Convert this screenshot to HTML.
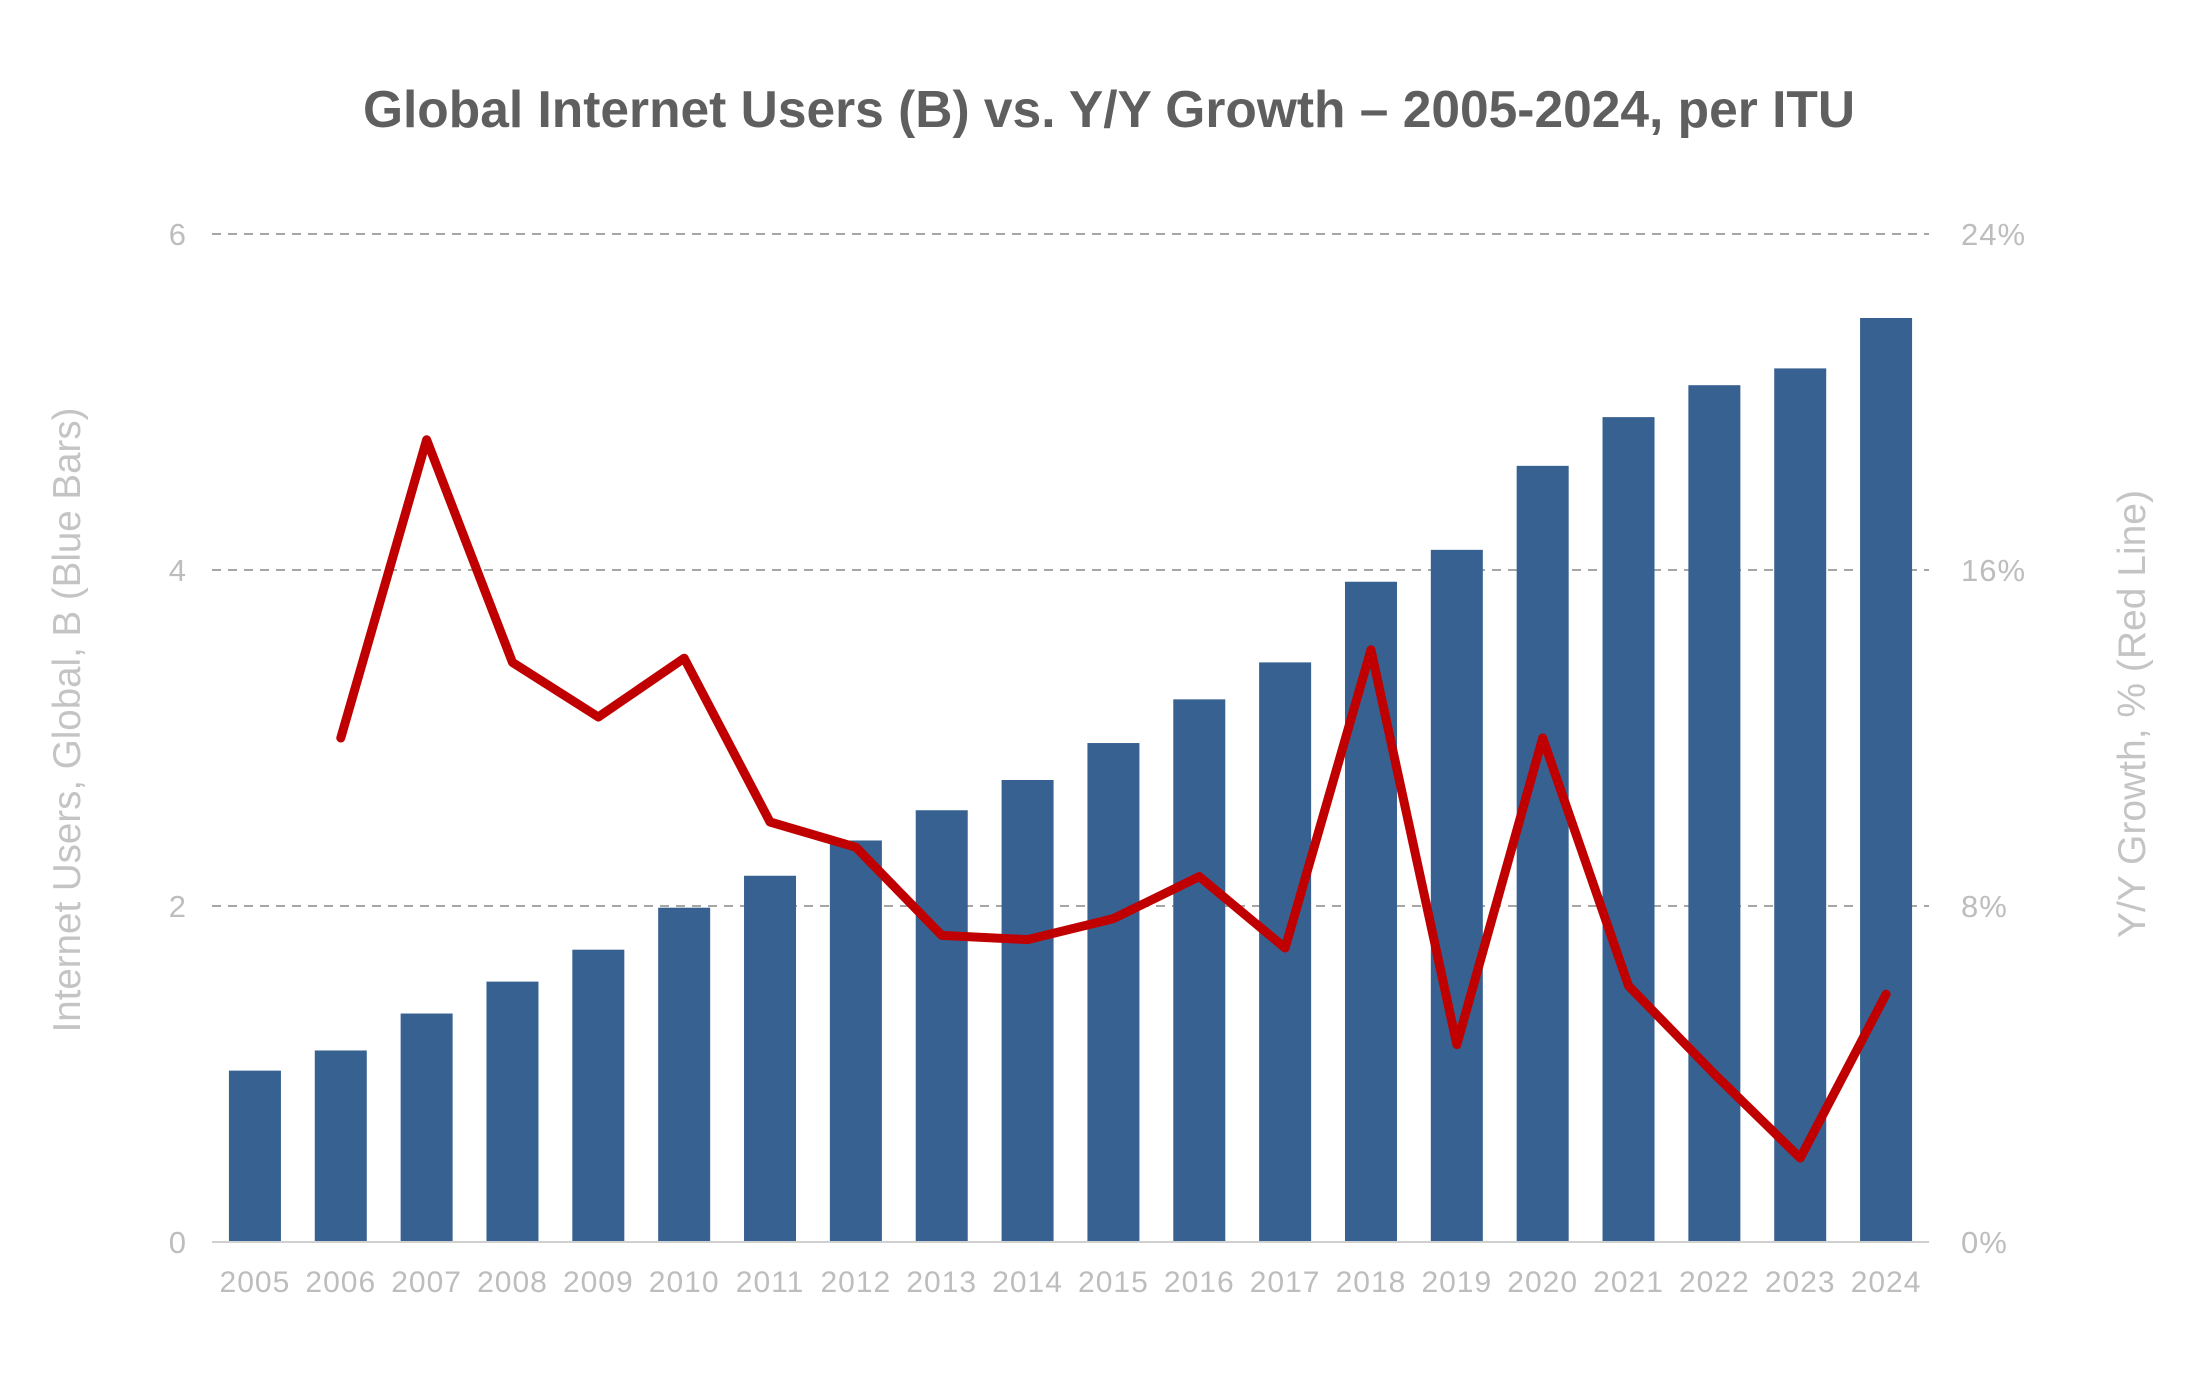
<!DOCTYPE html>
<html><head><meta charset="utf-8"><style>
body{margin:0;background:#fff;}
svg text{font-family:"Liberation Sans",Arial,sans-serif;}
</style></head><body>
<svg id="chart" width="2190" height="1378" viewBox="0 0 2190 1378" xmlns="http://www.w3.org/2000/svg">
<rect width="2190" height="1378" fill="#fff"/>
<text x="1109" y="127" text-anchor="middle" font-size="51.5" font-weight="bold" fill="#5f5f5f">Global Internet Users (B) vs. Y/Y Growth – 2005-2024, per ITU</text>
<g id="grid"></g><g id="bars"></g><g id="line"></g><g id="axes"></g>
<text transform="translate(80,720) rotate(-90)" text-anchor="middle" font-size="38.5" fill="#c4c4c4">Internet Users, Global, B (Blue Bars)</text>
<text transform="translate(2145,714) rotate(-90)" text-anchor="middle" font-size="39" fill="#c4c4c4">Y/Y Growth, % (Red Line)</text>
</svg>
<script>
const years=["2005","2006","2007","2008","2009","2010","2011","2012","2013","2014","2015","2016","2017","2018","2019","2020","2021","2022","2023","2024"];
const users=[1.02,1.14,1.36,1.55,1.74,1.99,2.18,2.39,2.57,2.75,2.97,3.23,3.45,3.93,4.12,4.62,4.91,5.10,5.20,5.50];
const growth=[null,12.0,19.1,13.8,12.5,13.9,10.0,9.4,7.3,7.2,7.7,8.7,7.0,14.1,4.7,12.0,6.1,4.0,2.0,5.9];
const leftTicks=[0,2,4,6];
const rightTicks=["0%","8%","16%","24%"];
const NS="http://www.w3.org/2000/svg";
const X0=212,X1=1929,Y0=1242,Y1=234;
const band=(X1-X0)/years.length;
const xc=i=>X0+band*(i+0.5);
const yL=v=>Y0-(v/6)*(Y0-Y1);
const yR=v=>Y0-(v/24)*(Y0-Y1);
function mk(tag,attrs,parent){const e=document.createElementNS(NS,tag);for(const k in attrs)e.setAttribute(k,attrs[k]);document.getElementById(parent).appendChild(e);return e;}
leftTicks.forEach((t,i)=>{
  const y=yL(t);
  if(t>0){const g=mk('line',{x1:X0,x2:X1,y1:y,y2:y,stroke:'#a6a6a6','stroke-width':2,'stroke-dasharray':'9,7'},'grid');
  
  }
  const l=mk('text',{x:186,y:y+11,'text-anchor':'end','font-size':31,fill:'#bdbdbd'},'axes');l.textContent=t;
  
  
  const r=mk('text',{x:1961,y:y+11,'font-size':31,fill:'#bdbdbd','letter-spacing':1},'axes');r.textContent=rightTicks[i];
  
  
});
users.forEach((v,i)=>{
  const b=mk('rect',{x:xc(i)-26,y:yL(v),width:52,height:Y0-yL(v),fill:'#366190'},'bars');
  
  
  const t=mk('text',{x:xc(i),y:1292,'text-anchor':'middle','font-size':30,fill:'#bdbdbd','letter-spacing':1},'axes');t.textContent=years[i];
  
  
});
const base=mk('line',{x1:X0,x2:X1,y1:Y0,y2:Y0,stroke:'#d0d0d0','stroke-width':2},'axes');


const pts=[];growth.forEach((g,i)=>{if(g!==null)pts.push(xc(i)+','+yR(g));});
const pl=mk('polyline',{points:pts.join(' '),fill:'none',stroke:'#c00000','stroke-width':9,'stroke-linejoin':'round','stroke-linecap':'round'},'line');


</script>
</body></html>
